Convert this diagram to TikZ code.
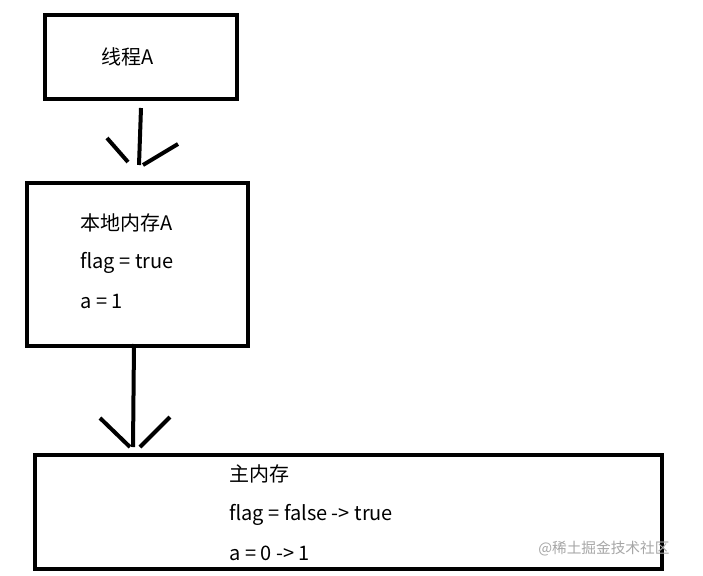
\documentclass[tikz,border=0pt]{standalone}
\usepackage{fontspec}
\setmainfont{Noto Sans CJK SC}
\begin{document}
\begin{tikzpicture}[
        x=0.75pt, y=-0.75pt,
        thickline/.style={line width=3pt},
        boxtext/.style={anchor=west, font=\fontsize{15}{18}\selectfont, inner sep=0pt}
    ]

    \useasboundingbox (0,0) rectangle (703,575);

    % boxes
    \draw[thickline] (45,15) rectangle (237,99);
    \draw[thickline] (27,183) rectangle (248,346);
    \draw[thickline] (35,455) rectangle (662,569);

    % texts
    \node[boxtext] (thread) at (101,57) {线程A};

    \node[boxtext] (local) at (80,223) {本地内存A};
    \node[boxtext] (lflag) at (80,263) {flag = true};
    \node[boxtext] (la) at (80,301) {a = 1};

    \node[boxtext] (main) at (229,474) {主内存};
    \node[boxtext] (mflag) at (229,515) {flag = false -> true};
    \node[boxtext] (ma) at (229,553) {a = 0 -> 1};

    \node[anchor=west, inner sep=0pt, text=gray!70, font=\fontsize{11}{13}\selectfont] (mark) at (538,549) {@稀土掘金技术社区};

    % arrow from thread to local memory
    \coordinate (t1) at (141,108);
    \coordinate (t2) at (139,165);
    \draw[thickline] (t1) -- (t2);
    \draw[thickline] (107,138) -- (128,162);
    \draw[thickline] (178,144) -- (143,165);

    % arrow from local memory to main memory
    \coordinate (m1) at (134,344);
    \coordinate (m2) at (133,447);
    \draw[thickline] (m1) -- (m2);
    \draw[thickline] (100,418) -- (130,447);
    \draw[thickline] (170,417) -- (140,447);

\end{tikzpicture}
\end{document}
